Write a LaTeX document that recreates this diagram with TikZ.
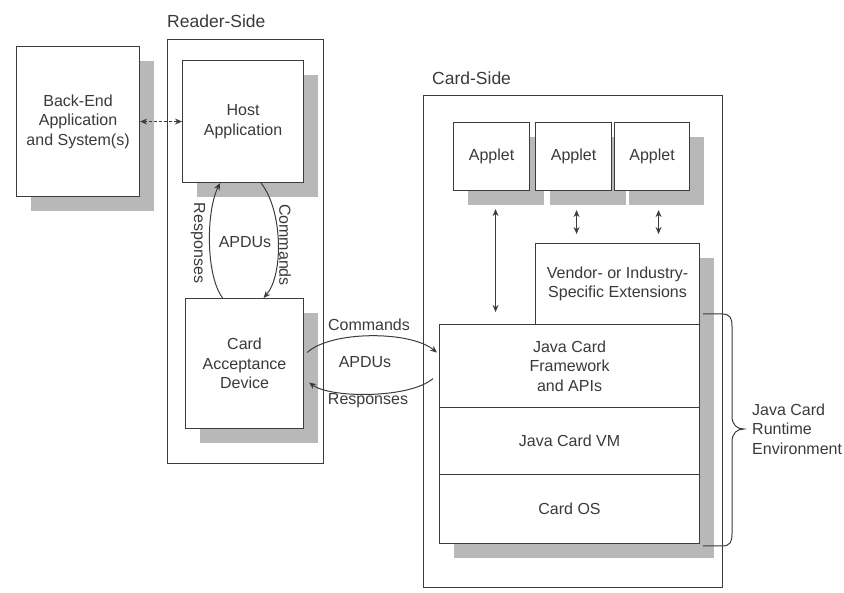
\documentclass[tikz,border=0pt]{standalone}
\usepackage{fontspec}
\setmainfont{Liberation Sans}
\usetikzlibrary{arrows.meta,shadows,calc}
\definecolor{linec}{HTML}{3C3C3C}
\definecolor{textc}{HTML}{3A3A3A}
\definecolor{shadowc}{HTML}{B8B8B8}
\newcommand\jcbody{\fontsize{16}{19.5}\selectfont}
\newcommand\jctitle{\fontsize{17.5}{21}\selectfont}
\begin{document}
\begin{tikzpicture}[x=1pt,y=-1pt,
  box/.style={draw=linec, fill=white, line width=1.1pt, inner sep=0pt, align=center, text=textc, font=\jcbody, anchor=north west},
  shad/.style={general shadow={fill=shadowc, shadow xshift=14pt, shadow yshift=-14pt}},
  frame/.style={draw=linec, line width=1.1pt, inner sep=0pt, anchor=north west},
  title/.style={text=textc, font=\jctitle, inner sep=0pt, anchor=west},
  lbl/.style={text=textc, font=\jcbody, inner sep=0pt},
  conn/.style={draw=linec, line width=1pt, -{Stealth[length=7pt,width=6pt]}},
  dconn/.style={draw=linec, line width=1pt, {Stealth[length=7pt,width=6pt]}-{Stealth[length=7pt,width=6pt]}}
]
\useasboundingbox (0,0) rectangle (844,593);

% containers
\node[frame, minimum width=156pt, minimum height=424pt] (reader) at (167,39) {};
\node[title] (readert) at (167,21) {Reader-Side};
\node[frame, minimum width=299pt, minimum height=492pt] (card) at (423,95) {};
\node[title] (cardt) at (432,78) {Card-Side};

% reader side boxes
\node[box,shad, minimum width=123pt, minimum height=150pt] (backend) at (16,46) {Back-End\\Application\\and System(s)};
\node[box,shad, minimum width=121pt, minimum height=122pt] (host) at (182,60) {Host\\Application};
\node[box,shad, minimum width=118pt, minimum height=130pt] (cad) at (185,298) {Card\\Acceptance\\Device};

% card side boxes
\node[box,shad, minimum width=76pt, minimum height=68pt] (a1) at (453,122) {Applet};
\node[box,shad, minimum width=76pt, minimum height=68pt] (a2) at (535,122) {Applet};
\node[box,shad, minimum width=75pt, minimum height=68pt] (a3) at (614,122) {Applet};
\node[box,shad, minimum width=164pt, minimum height=81pt] (vendor) at (535,243) {Vendor- or Industry-\\Specific Extensions};
\node[box,shad, minimum width=260pt, minimum height=83pt] (fw) at (439,324) {Java Card\\Framework\\and APIs};
\node[box,shad, minimum width=260pt, minimum height=67pt] (vm) at (439,407) {Java Card VM};
\node[box,shad, minimum width=260pt, minimum height=69pt] (os) at (439,474) {Card OS};

% dashed link
\draw[dconn, dash pattern=on 3pt off 2pt] (backend.east) -- (host.west);

% vertical APDU loop
\draw[conn] ([xshift=-22pt]cad.north) .. controls +(-17,-23) and +(-14,28) .. ([xshift=-23pt]host.south);
\draw[conn] ([xshift=18pt]host.south) .. controls +(22,28) and +(20,-23) .. ([xshift=19pt]cad.north);
\node[lbl] (apdu1) at (245,242) {APDUs};
\node[lbl, rotate=-90] (resp1) at (198,243) {Responses};
\node[lbl, rotate=-90] (comm1) at (285,245) {Commands};

% horizontal APDU loop
\draw[conn] ([shift={(3,-11)}]cad.east) .. controls +(24,-22) and +(-27,-22) .. ([shift={(-2,-13.5)}]fw.west);
\draw[conn] ([shift={(-6,12.5)}]fw.west) .. controls +(-23,20) and +(22,16) .. ([shift={(5,19)}]cad.east);
\node[lbl] (comm2) at (369,325) {Commands};
\node[lbl] (apdu2) at (365,362) {APDUs};
\node[lbl] (resp2) at (368,401) {Responses};

% applet arrows
\draw[dconn] ([shift={(4,18)}]a1.south) -- ($(a1.south |- fw.north)+(4,-12)$);
\draw[dconn] ([shift={(3,19)}]a2.south) -- ($(a2.south |- vendor.north)+(3,-9)$);
\draw[dconn] ([shift={(6.5,19)}]a3.south) -- ($(a3.south |- vendor.north)+(6.5,-9)$);

% brace
\draw[linec, line width=1pt] (703,314) -- (722,314) .. controls (730,314) and (732,318) .. (732,326) -- (732,416) .. controls (732,425) and (737,429) .. (744,429) .. controls (737,429) and (732,433) .. (732,442) -- (732,534) .. controls (732,542) and (730,546) .. (722,546) -- (703,546);
\node[lbl, align=left, anchor=west] (jcre) at (752,429) {Java Card\\Runtime\\Environment};
\end{tikzpicture}
\end{document}
